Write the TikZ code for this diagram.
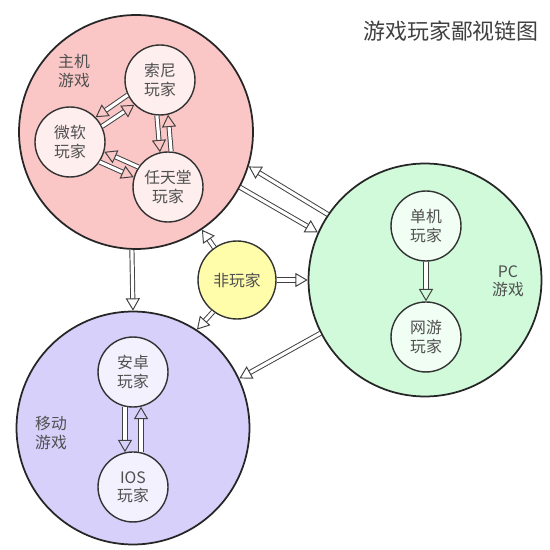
\documentclass[tikz,border=0pt]{standalone}
\usepackage{fontspec}
\setmainfont{Noto Sans CJK SC}
\usetikzlibrary{arrows.meta,positioning}

\definecolor{consolepink}{RGB}{250,198,198}
\definecolor{pcgreen}{RGB}{208,250,218}
\definecolor{mobilepurple}{RGB}{214,208,250}
\definecolor{nonyellow}{RGB}{255,252,170}
\definecolor{labelgray}{RGB}{80,80,80}

\begin{document}
\begin{tikzpicture}[
    x=0.02cm, y=-0.02cm,
    font=\fontsize{9}{10.5}\selectfont,
    platform/.style={
		circle,
		draw=black!85,
		line width=1pt,
		minimum size=4.66cm,
		inner sep=0pt
	},
	player/.style={
		circle,
		draw=black!80,
		line width=0.8pt,
		minimum size=1.4cm,
		inner sep=0pt,
		align=center,
		text=labelgray,
		fill=#1
	},
	tag/.style={
		align=center,
		text=labelgray
	},
	link/.style={
		double, double distance=1.8pt, line width=0.55pt, draw=black!75,
		-{Triangle[open, length=7pt, width=8pt]}
	}
  ]
  \useasboundingbox (0,0) rectangle (550,550);

  % the three platforms and the non-players
  \node [platform, fill=consolepink, minimum size=4.68cm] (console) at (136,132) {};
  \node [platform, fill=pcgreen] (pc) at (425,280) {};
  \node [platform, fill=mobilepurple] (mobile) at (133,428) {};
  \node [player=nonyellow, minimum size=1.56cm] (nonplayer) at (237,280) {非玩家};

  \node [tag, font=\fontsize{12.5}{14}\selectfont, text=black!75] (title) at (451,31) {游戏玩家鄙视链图};
  \node [tag] (consoletag) at (74,71) {主机\\游戏};
  \node [tag] (pctag) at (508,281) {PC\\游戏};
  \node [tag] (mobiletag) at (51,433) {移动\\游戏};

  % players inside
  \node [player=consolepink!30] (sony) at (160,80) {索尼\\玩家};
  \node [player=consolepink!30] (ms) at (70,142) {微软\\玩家};
  \node [player=consolepink!30] (nin) at (168,187) {任天堂\\玩家};
  \node [player=pcgreen!30] (single) at (426,226) {单机\\玩家};
  \node [player=pcgreen!30, below of=single, node distance=2.22cm] (online) {网游\\玩家};
  \node [player=mobilepurple!30] (android) at (133,372) {安卓\\玩家};
  \node [player=mobilepurple!30, below of=android, node distance=2.3cm] (ios) {IOS\\玩家};

  % who looks down on whom
  \draw [link] (sony.205) -- (ms.44);
  \draw [link] (ms.26) -- (sony.224);
  \draw [link] (sony.-95) -- (nin.103);
  \draw [link] (nin.85) -- (sony.-77);
  \draw [link] (nin.146) -- (ms.-16);
  \draw [link] (ms.-34) -- (nin.164);
  \draw [link] (single) -- (online);
  \draw [link] (android.-103) -- (ios.103);
  \draw [link] (ios.77) -- (android.-77);

  \draw [link] (pc.146) -- (console.-17);
  \draw [link] (console.-28) -- (pc.156);
  \draw [link] (console.-92) -- (mobile.90);
  \draw [link] (pc.207) -- (mobile.25);
  \draw [link] (nonplayer.125) -- (console.-56);
  \draw [link] (nonplayer) -- (pc);
  \draw [link] (nonplayer.-127) -- (mobile.57);

\end{tikzpicture}
\end{document}
